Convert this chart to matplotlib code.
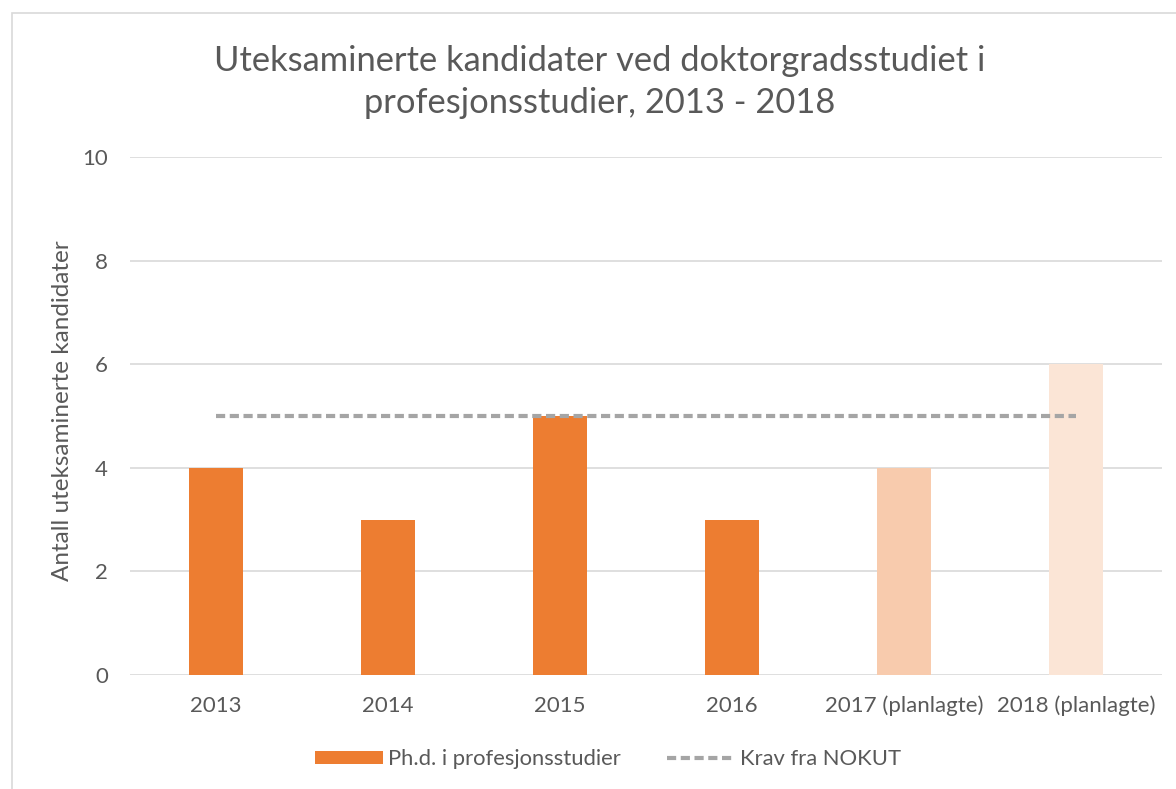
import matplotlib
matplotlib.use('Agg')
import matplotlib.pyplot as plt
from matplotlib.patches import Rectangle, Patch
from matplotlib.lines import Line2D

plt.rcParams['font.family'] = ['Lato', 'DejaVu Sans']

# Data
categories = ['2013', '2014', '2015', '2016', '2017 (planlagte)', '2018 (planlagte)']
kandidater = [4, 3, 5, 3, 4, 6]
krav = [5, 5, 5, 5, 5, 5]
bar_colors = ['#ED7D31', '#ED7D31', '#ED7D31', '#ED7D31', '#F8CBAD', '#FBE5D6']

W, H = 1176, 789
fig = plt.figure(figsize=(W / 100, H / 100), dpi=100)
fig.patch.set_facecolor('white')

# chart frame
fig.patches.append(Rectangle((12 / W, -0.1), 1.2, 1 - 13 / H + 0.1,
                             transform=fig.transFigure, fill=False,
                             edgecolor='#D9D9D9', lw=1.2))

ax = fig.add_axes([130 / W, 1 - 675 / H, (1162 - 130) / W, (675 - 157) / H])
x = range(len(categories))
ax.bar(x, kandidater, width=0.314, color=bar_colors, zorder=2)
ax.plot(x, krav, color='#A5A5A5', lw=3, ls=(0, (2.2, 1.1)), zorder=3)

ax.set_xlim(-0.5, len(categories) - 0.5)
ax.set_ylim(0, 10)
ax.set_yticks(range(0, 11, 2))
ax.set_xticks(list(x))
ax.set_xticklabels(categories)
ax.grid(axis='y', color='#D9D9D9', lw=1.2, zorder=0)
for s in ax.spines.values():
    s.set_visible(False)
ax.tick_params(length=0, labelsize=16, labelcolor='#595959')
ax.tick_params(axis='x', pad=15)
ax.tick_params(axis='y', pad=16)
ax.set_ylabel('Antall uteksaminerte kandidater', fontsize=17.5, color='#595959')
ax.yaxis.set_label_coords(-0.055, 0.51)

fig.text(600 / W, 1 - 82 / H, 'Uteksaminerte kandidater ved doktorgradsstudiet i\nprofesjonsstudier, 2013 - 2018',
         ha='center', va='center', fontsize=24.8, color='#595959', linespacing=1.35)

handles = [Patch(facecolor='#ED7D31', label='Ph.d. i profesjonsstudier'),
           Line2D([0], [0], color='#A5A5A5', lw=3, ls=(0, (2.2, 1.1)), label='Krav fra NOKUT')]
leg = fig.legend(handles=handles, loc='center', bbox_to_anchor=(608 / W, 1 - 759 / H),
                 ncol=2, frameon=False, fontsize=15.8, handlelength=3.1, handleheight=0.55,
                 handletextpad=0.25, columnspacing=2.1)
for t in leg.get_texts():
    t.set_color('#595959')

fig.savefig('out.png', dpi=100, facecolor='white')
